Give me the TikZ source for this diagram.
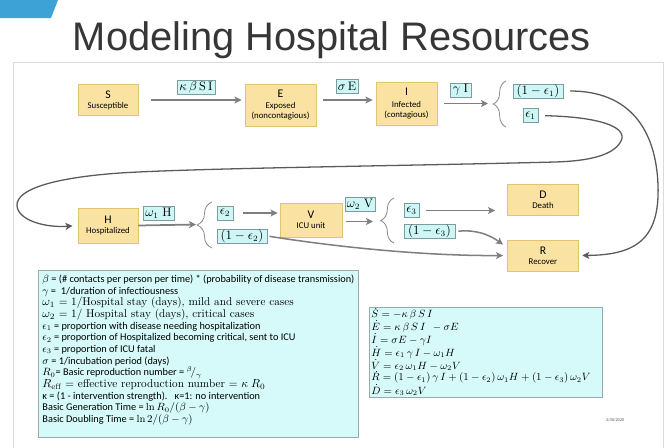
\documentclass[tikz,border=0pt]{standalone}
\usepackage{fontspec}
\newfontfamily\calib{Carlito}
\newfontfamily\titlef{Liberation Sans}
\usetikzlibrary{arrows.meta,decorations.pathreplacing}

\definecolor{boxfill}{HTML}{FAE3A2}
\definecolor{boxline}{HTML}{E3C46E}
\definecolor{labfill}{HTML}{CDF7F7}
\definecolor{labline}{HTML}{7D9C9C}
\definecolor{deffill}{HTML}{D5FAF9}
\definecolor{defline}{HTML}{98AAAA}
\definecolor{flowgray}{HTML}{7F7F7F}
\definecolor{curvegray}{HTML}{5A5A5A}
\definecolor{bracegray}{HTML}{8A8A8A}
\definecolor{framegray}{HTML}{DADADA}
\definecolor{tabblue}{HTML}{3DA3D7}
\definecolor{titlegray}{HTML}{363636}

\newcommand{\subt}[1]{{\fontsize{7.5}{9}\selectfont #1}}
\newcommand{\serifl}{\rmfamily\fontsize{9.6}{9.96}\selectfont}

\begin{document}
\begin{tikzpicture}
  [x=0.03cm,y=-0.03cm,
   compN/.style={draw=boxline,fill=boxfill,align=center,inner sep=1pt,
                 font=\calib\fontsize{10}{10.5}\selectfont},
   rateN/.style={draw=labline,fill=labfill,inner sep=0pt,minimum height=0.42cm,
                 font=\fontsize{10.5}{12}\selectfont},
   defsN/.style={draw=defline,fill=deffill,inner sep=0pt},
   flow/.style={draw=flowgray,line width=1.5pt,-{Stealth[length=6pt,width=6pt,inset=1.5pt]}},
   curveL/.style={draw=curvegray,line width=1.1pt},
   braceL/.style={draw=bracegray,line width=0.7pt,decorate},
   thick]

  \useasboundingbox (0,0) rectangle (671,447);

  % slide frame and title
  \fill[tabblue] (0,0) -- (58,0) -- (51,18) -- (0,18) -- cycle;
  \draw[framegray,line width=0.6pt] (13,62) rectangle (663,470);
  \node[font=\titlef\fontsize{34}{40}\selectfont,text=titlegray,anchor=base]
    (title) at (332,50) {Modeling Hospital Resources};

  % compartments
  \node[compN,minimum width=1.8cm,minimum height=0.93cm]  (S) at (108,100)
    {S\\[-2pt]\subt{Susceptible}};
  \node[compN,minimum width=2.13cm,minimum height=1.26cm] (E) at (280.5,105)
    {E\\[-1pt]\subt{Exposed}\\[-2pt]\subt{(noncontagious)}};
  \node[compN,minimum width=1.83cm,minimum height=1.29cm] (I) at (406.5,103.5)
    {I\\[-1pt]\subt{Infected}\\[-2pt]\subt{(contagious)}};
  \node[compN,minimum width=1.8cm,minimum height=1.05cm]  (H) at (108,225.5)
    {H\\[-2pt]\subt{Hospitalized}};
  \node[compN,minimum width=1.86cm,minimum height=1.02cm] (V) at (311,220)
    {V\\[-2pt]\subt{ICU unit}};
  \node[compN,minimum width=2.13cm,minimum height=0.93cm] (D) at (543,199.5)
    {D\\[-2pt]\subt{Death}};
  \node[compN,minimum width=2.13cm,minimum height=0.93cm] (R) at (543,255.5)
    {R\\[-2pt]\subt{Recover}};

  % rates and fractions
  \node[rateN,minimum width=1.14cm] (kbSI) at (196,87)    {$\kappa\,\beta\,\mathrm{S\,I}$};
  \node[rateN,minimum width=0.66cm] (sE)   at (347,86.5)  {$\sigma\,\mathrm{E}$};
  \node[rateN,minimum width=0.63cm] (gI)   at (460.5,90)  {$\gamma\;\mathrm{I}$};
  \node[rateN,minimum width=1.5cm]  (f1)   at (538,91)    {$(1-\epsilon_1)$};
  \node[rateN,minimum width=0.45cm] (e1)   at (530.5,115.5) {$\epsilon_1$};
  \node[rateN,minimum width=0.93cm] (w1H)  at (158.5,213.5) {$\omega_1\;\mathrm{H}$};
  \node[rateN,minimum width=0.48cm] (e2)   at (225,213)   {$\epsilon_2$};
  \node[rateN,minimum width=1.5cm]  (f2)   at (242,236)   {$(1-\epsilon_2)$};
  \node[rateN,minimum width=0.9cm]  (w2V)  at (360,204.5) {$\omega_2\;\mathrm{V}$};
  \node[rateN,minimum width=0.45cm] (e3)   at (411.5,210.5) {$\epsilon_3$};
  \node[rateN,minimum width=1.53cm] (f3)   at (429.5,231.5) {$(1-\epsilon_3)$};

  % braces
  \coordinate (brI) at (488,103.5);
  \coordinate (brH) at (196,224.5);
  \coordinate (brV) at (373,221.5);
  \draw[braceL,decoration={brace,amplitude=0.38cm}] (506,127) -- (506,81);
  \draw[braceL,decoration={brace,amplitude=0.45cm}] (212,248) -- (212,202);
  \draw[braceL,decoration={brace,amplitude=0.40cm}] (394,243) -- (394,198);

  % straight flows
  \coordinate (rowA) at (0,100);
  \draw[flow,shorten <=0.39cm,shorten >=0.09cm] (S.east |- rowA) -- (E.west |- rowA);
  \draw[flow,shorten <=0.21cm,shorten >=0.09cm] (E.east |- rowA) -- (I.west |- rowA);
  \draw[flow,shorten <=0.21cm] (I.east) -- (brI);
  \draw[flow] (H.east) -- (brH);
  \draw[flow,shorten <=0.3cm,shorten >=0.06cm] (e2.east) -- (e2.east -| V.west);
  \draw[flow,shorten <=0.12cm] (V.east |- brV) -- (brV);
  \draw[flow,shorten <=0.2cm,shorten >=0.36cm] (e3.east) -- (e3.east -| D.west);

  % curved flows
  \draw[curveL,-{Stealth[length=6pt,width=6pt,inset=1.5pt]},shorten <=0.2cm,shorten >=0.15cm]
    (e1.east) .. controls (600,117) and (628,127) .. (621,141)
              .. controls (614,155) and (590,161) .. (555,162)
              .. controls (400,166) and (200,168) .. (120,173)
              .. controls (50,178) and (17,190) .. (17,205)
              .. controls (17,220) and (45,228) .. (H.west);
  \draw[curveL,-{Stealth[length=6pt,width=6pt,inset=1.5pt]},shorten <=0.2cm,shorten >=0.1cm]
    (f1.east) .. controls (630,91) and (656,130) .. (658,185)
              .. controls (660,240) and (635,255) .. (R.east);
  \draw[curveL,draw=flowgray,line width=1.3pt,-{Stealth[length=6pt,width=6pt,inset=1.5pt]},
        shorten <=0.06cm,shorten >=0.12cm]
    (f2.east) .. controls (330,246) and (420,256) .. (R.west);
  \draw[curveL,draw=flowgray,line width=1.3pt,-{Stealth[length=6pt,width=6pt,inset=1.5pt]},
        shorten <=0.09cm,shorten >=0.15cm]
    (f3.east) .. controls (480,229) and (494,238) .. ([yshift=-0.24cm]R.north west);

  % definitions
  \node[defsN,anchor=north west,minimum width=9.6cm,minimum height=5.01cm] (defbox) at (38,270) {};
  \node[anchor=north west,inner sep=0pt,align=left,font=\calib\fontsize{8.8}{9.96}\selectfont]
    (defs) at (42,274.5) {%
    $\beta$ = (\# contacts per person per time) * (probability of disease transmission)\\
    $\gamma$ =\ \ 1/duration of infectiousness\\
    {\serifl $\omega_1$ = 1/Hospital stay (days), mild and severe cases}\\
    {\serifl $\omega_2$ = 1/ Hospital stay (days), critical cases}\\
    $\epsilon_1$ = proportion with disease needing hospitalization\\
    $\epsilon_2$ = proportion of Hospitalized becoming critical, sent to ICU\\
    $\epsilon_3$ = proportion of ICU fatal\\
    $\sigma$ = 1/incubation period (days)\\
    $R_0$= Basic reproduction number = $^{\beta}\!/_{\gamma}$\\
    {\serifl $R_{\mathrm{eff}}$ = effective reproduction number = $\kappa\;R_0$}\\
    κ = (1 - intervention strength).\ \ \ κ=1: no intervention\\
    Basic Generation Time = $\ln R_0/(\beta-\gamma)$\\
    Basic Doubling Time = $\ln 2/(\beta-\gamma)$};

  % equations
  \node[defsN,anchor=north west,minimum width=6.99cm,minimum height=2.7cm] (eqbox) at (369,307) {};
  \node[anchor=north west,inner sep=0pt,align=left,font=\fontsize{9.2}{9.8}\selectfont]
    (eqs) at (371,307.5) {%
    $\dot S = -\kappa\,\beta\,S\,I$\\
    $\dot E = \kappa\,\beta\,S\,I\;\, -\sigma E$\\
    $\dot I = \sigma E - \gamma I$\\
    $\dot H = \epsilon_1\,\gamma\,I - \omega_1 H$\\
    $\dot V = \epsilon_2\,\omega_1 H - \omega_2 V$\\
    $\dot R = (1-\epsilon_1)\,\gamma\,I + (1-\epsilon_2)\,\omega_1 H + (1-\epsilon_3)\,\omega_2 V$\\
    $\dot D = \epsilon_3\,\omega_2 V$};

  \node[font=\calib\itshape\fontsize{3.6}{4}\selectfont,text=black!70] (date) at (615,420) {3/30/2020};
\end{tikzpicture}
\end{document}
